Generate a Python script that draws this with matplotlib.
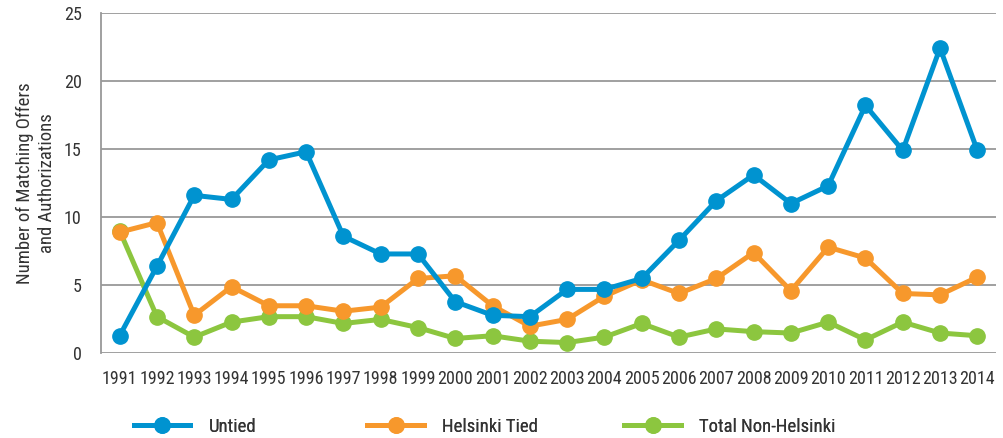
import numpy as np
import matplotlib.pyplot as plt
from matplotlib.lines import Line2D

plt.rcParams['font.family'] = ['Roboto Condensed', 'DejaVu Sans']

#%% data
years = list(range(1991, 2015))

untied = [1.3, 6.4, 11.6, 11.3, 14.2, 14.8, 8.6, 7.3, 7.3, 3.8, 2.8, 2.7,
          4.7, 4.7, 5.5, 8.3, 11.2, 13.1, 11.0, 12.3, 18.2, 14.9, 22.4, 14.9]
helsinki_tied = [8.9, 9.6, 2.8, 4.9, 3.5, 3.5, 3.1, 3.4, 5.5, 5.7, 3.5, 2.0,
                 2.5, 4.2, 5.4, 4.4, 5.5, 7.4, 4.6, 7.8, 7.0, 4.4, 4.3, 5.6]
non_helsinki = [9.0, 2.7, 1.2, 2.3, 2.7, 2.7, 2.2, 2.5, 1.9, 1.1, 1.3, 0.9,
                0.8, 1.2, 2.2, 1.2, 1.8, 1.6, 1.5, 2.3, 1.0, 2.3, 1.5, 1.3]

c_blue = '#0093d0'
c_orange = '#f7982c'
c_green = '#8cc63f'

#%%
fig = plt.figure(figsize=(10.04, 4.38), dpi=100)
ax = fig.add_axes([0.1006, 0.193, 0.8914, 0.778])

kw = dict(lw=3.6, marker='o', ms=11, solid_capstyle='round', clip_on=False)
ax.plot(years, non_helsinki, color=c_green, zorder=3, **kw)
ax.plot(years, helsinki_tied, color=c_orange, zorder=4, **kw)
ax.plot(years, untied, color=c_blue, zorder=5, **kw)

ax.set_xlim(1990.5, 2014.5)
ax.set_ylim(0, 25)
ax.set_yticks([0, 5, 10, 15, 20, 25])
ax.set_xticks(years)
ax.grid(axis='y', color='#999999', lw=1.3)
ax.set_axisbelow(True)
for s in ['top', 'right', 'bottom']:
    ax.spines[s].set_visible(False)
ax.spines['left'].set_color('#999999')
ax.spines['left'].set_linewidth(1.3)
ax.tick_params(length=0, labelsize=13, colors='#333333')
ax.tick_params(axis='y', pad=14)
ax.tick_params(axis='x', pad=12)
ax.set_ylabel('Number of Matching Offers\nand Authorizations', fontsize=13.5,
              color='#333333', linespacing=1.3)
ax.yaxis.set_label_coords(-0.05, 0.5)

# legend, three separate entries along the bottom
entries = [('Untied', c_blue, 0.133), ('Helsinki Tied', c_orange, 0.366),
           ('Total Non-Helsinki', c_green, 0.622)]
for name, col, xpos in entries:
    h = Line2D([], [], color=col, lw=3.6, marker='o', ms=11)
    leg = fig.legend([h], [name], loc='center left', bbox_to_anchor=(xpos, 0.025),
                     frameon=False, fontsize=13.5, handlelength=3.0,
                     handletextpad=1.0, borderaxespad=0, borderpad=0)
    for t in leg.get_texts():
        t.set_color('#333333')
    fig.add_artist(leg)

fig.savefig('out.png', dpi=100)
